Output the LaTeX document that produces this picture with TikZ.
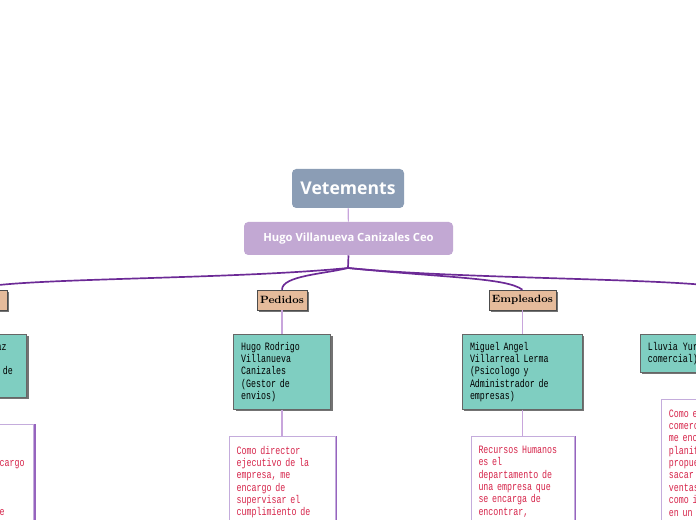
\documentclass[tikz,border=0pt]{standalone}
\usepackage{fontspec}
\usepackage{tikz}
\usetikzlibrary{positioning,shadows}

\newfontfamily\monofont{Liberation Mono}[FakeStretch=0.74]
\newfontfamily\titlefont{Open Sans}

\definecolor{rootgray}{RGB}{139,157,181}
\definecolor{ceolilac}{RGB}{194,168,211}
\definecolor{tealbox}{RGB}{127,206,193}
\definecolor{branchtan}{RGB}{229,187,155}
\definecolor{notered}{RGB}{214,36,74}
\definecolor{twiglilac}{RGB}{200,165,220}
\definecolor{limbpurple}{RGB}{108,42,150}
\definecolor{noteline}{RGB}{196,172,220}
\definecolor{noteshade}{RGB}{150,100,190}

\begin{document}
\begin{tikzpicture}[
    root/.style={rounded corners=3pt, fill=rootgray, text=white,
                 minimum width=2.8cm, minimum height=0.975cm,
                 font=\titlefont\bfseries\fontsize{12.5}{15}\selectfont},
    ceo/.style={rounded corners=3pt, fill=ceolilac, text=white,
                minimum width=5.225cm, minimum height=0.825cm,
                font=\titlefont\bfseries\fontsize{8}{10}\selectfont},
    branch/.style={draw=black!70, fill=branchtan, minimum height=0.5cm, inner sep=0pt,
                   font=\bfseries\fontsize{7.5}{9}\selectfont,
                   drop shadow={shadow xshift=0.05cm, shadow yshift=-0.05cm,
                                fill=black!55, opacity=1}},
    person/.style={draw=black!60, fill=tealbox, align=left,
                   inner xsep=0.19cm, inner ysep=0.19cm,
                   font=\monofont\fontsize{8}{8.8}\selectfont,
                   drop shadow={shadow xshift=0.05cm, shadow yshift=-0.05cm,
                                fill=black!55, opacity=1}},
    note/.style={draw=noteline, fill=white, align=left, text=notered,
                 inner xsep=0.19cm, inner ysep=0.24cm,
                 font=\monofont\fontsize{8}{8.8}\selectfont,
                 drop shadow={shadow xshift=0.06cm, shadow yshift=0cm,
                              fill=noteshade, opacity=1}},
    twig/.style={draw=twiglilac, line width=0.8pt},
    limb/.style={draw=limbpurple, line width=1.2pt},
]

%% ---- frame: the page is cut at the picture edges ----
\useasboundingbox (0,0) rectangle (17.4,-13);
\clip (0,0) rectangle (17.4,-13);

%% ---- TOP: central topic and CEO ----
\node[root] (root) at (8.7,-4.7125) {Vetements};
\node[ceo]  (ceo)  at (8.7125,-5.9625) {Hugo Villanueva Canizales Ceo};
\coordinate (hub) at (8.7,-6.7);

%% ---- BRANCH LABELS ----
\node[branch, minimum width=1.6cm]   (leftbr)    at (-0.625,-7.5) {};
\node[branch, minimum width=1.25cm]  (pedidos)   at (7.05,-7.5)   {Pedidos};
\node[branch, minimum width=1.675cm] (empleados) at (13.06,-7.5)  {Empleados};
\coordinate (rightbr) at (18.3,-7.25);

%% ---- PEOPLE (teal boxes) ----
\node[person, anchor=north east, text width=2.0cm] (leftname) at (0.675,-8.35)
    {Jose Luis Diaz\\Gutierrez\\(Responsable de\\ventas)};
\node[person, anchor=north, text width=2.045cm] (pedname) at (7.05,-8.35)
    {Hugo Rodrigo\\Villanueva\\Canizales\\(Gestor de\\envios)};
\node[person, anchor=north, text width=2.62cm] (empname) at (13.06,-8.35)
    {Miguel Angel\\Villarreal Lerma\\(Psicologo y\\Administrador de\\empresas)};
\node[person, anchor=north west] (rightname) at (16.0,-8.35)
    {Lluvia Yuridia (Gerente\\comercial)};

%% ---- DESCRIPTIONS (white boxes) ----
\node[note, anchor=north east, text width=2.22cm] (leftdesc) at (0.85,-10.6)
    {Como gerente\\comercial de\\ventas, me encargo\\de mantener\\una buena\\relacion\\con el cliente\\~};
\node[note, anchor=north, text width=2.27cm] (peddesc) at (7.05,-10.9)
    {Como director\\ejecutivo de la\\empresa, me\\encargo de\\supervisar el\\cumplimiento de\\~};
\node[note, anchor=north, text width=2.195cm] (empdesc) at (13.06,-10.9)
    {Recursos Humanos\\es el\\departamento de\\una empresa que\\se encarga de\\encontrar,\\~};
\node[note, anchor=north west, text width=2.3cm] (rightdesc) at (16.525,-9.975)
    {Como ejecutivo\\comercial,\\me encargo de\\planificar\\propuestas\\sacar adelante\\ventas, asi\\como impulsar\\en un mercado\\~};

%% ---- top connectors ----
\draw[twig] (root) -- (ceo);
\draw[limb] (ceo.south) -- (hub);

%% ---- hub to branches ----
\draw[limb] (hub) .. controls +(-3,-0.3) and +(0.5,0.3) .. (leftbr.north);
\draw[limb] (hub) .. controls +(-0.6,-0.15) and +(0,0.35) .. (pedidos.north);
\draw[limb] (hub) .. controls +(2.5,-0.25) and +(-0.4,0.3) .. (empleados.north);
\draw[limb] (hub) .. controls +(3,-0.3) and +(-0.5,0.3) .. (rightbr);

%% ---- branch columns ----
\draw[twig] (leftbr)    -- (leftname);
\draw[twig] (leftname)  -- (leftdesc);
\draw[twig] (pedidos)   -- (pedname);
\draw[twig] (pedname)   -- (peddesc);
\draw[twig] (empleados) -- (empname);
\draw[twig] (empname)   -- (empdesc);
\draw[twig] (rightname) -- (rightdesc);

\end{tikzpicture}
\end{document}
